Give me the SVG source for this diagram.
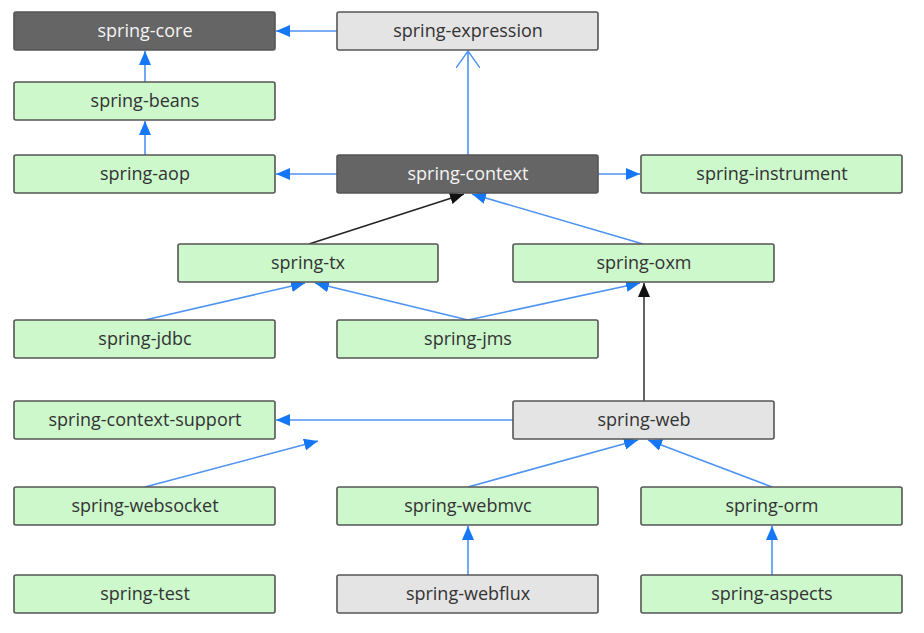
<svg xmlns="http://www.w3.org/2000/svg" width="924" height="633" viewBox="0 0 924 633">
<style>
.n rect{stroke:#555;stroke-width:1.6}
.g rect{fill:#ccf8cc}
.l rect{fill:#e4e4e4}
.d rect{fill:#656565}
.n text{font-family:"Open Sans","Noto Sans","DejaVu Sans",sans-serif;font-size:18px;text-anchor:middle;dominant-baseline:central;fill:#333}
.d text{fill:#f4f4f4}
.e{fill:none;stroke:#4c93f2;stroke-width:1.6}
.k{fill:none;stroke:#222;stroke-width:1.4}
</style>
<defs>
<marker id="ab" viewBox="0 0 14 12" refX="14" refY="6" markerWidth="14" markerHeight="12" markerUnits="userSpaceOnUse" orient="auto"><path d="M0,0L14,6L0,12z" fill="#1677f5"/></marker>
<marker id="ak" viewBox="0 0 14 12" refX="14" refY="6" markerWidth="14" markerHeight="12" markerUnits="userSpaceOnUse" orient="auto"><path d="M0,0L14,6L0,12z" fill="#111"/></marker>
<marker id="ao" viewBox="0 0 18 24" refX="17" refY="12" markerWidth="18" markerHeight="24" markerUnits="userSpaceOnUse" orient="auto"><path d="M0,0L17,12L0,24" fill="none" stroke="#4c93f2" stroke-width="1.4"/></marker>
</defs>
<rect width="924" height="633" fill="#fff"/>
<g id="connectors">
<line class="e" x1="337" y1="31" x2="276" y2="31" marker-end="url(#ab)"/>
<line class="e" x1="145" y1="82" x2="145" y2="51" marker-end="url(#ab)"/>
<line class="e" x1="145" y1="155" x2="145" y2="121" marker-end="url(#ab)"/>
<line class="e" x1="468" y1="155" x2="468" y2="51" marker-end="url(#ao)"/>
<line class="e" x1="337" y1="174" x2="276" y2="174" marker-end="url(#ab)"/>
<line class="e" x1="598" y1="174" x2="640" y2="174" marker-end="url(#ab)"/>
<line class="k" x1="309" y1="244" x2="464" y2="194" marker-end="url(#ak)"/>
<line class="e" x1="643" y1="244" x2="472" y2="194" marker-end="url(#ab)"/>
<line class="e" x1="145" y1="320" x2="305" y2="283" marker-end="url(#ab)"/>
<line class="e" x1="468" y1="320" x2="315" y2="283" marker-end="url(#ab)"/>
<line class="e" x1="468" y1="320" x2="640" y2="283" marker-end="url(#ab)"/>
<line class="k" x1="644" y1="401" x2="644" y2="283" marker-end="url(#ak)"/>
<line class="e" x1="513" y1="420" x2="276" y2="420" marker-end="url(#ab)"/>
<line class="e" x1="145" y1="487" x2="318" y2="441" marker-end="url(#ab)"/>
<line class="e" x1="468" y1="487" x2="638" y2="440" marker-end="url(#ab)"/>
<line class="e" x1="772" y1="487" x2="648" y2="440" marker-end="url(#ab)"/>
<line class="e" x1="468" y1="575" x2="468" y2="526" marker-end="url(#ab)"/>
<line class="e" x1="772" y1="575" x2="772" y2="526" marker-end="url(#ab)"/>
</g>
<g id="spring-core" class="n d"><rect x="14" y="12" width="261" height="38" rx="2"/><text x="145" y="30">spring-core</text></g>
<g id="spring-expression" class="n l"><rect x="337" y="12" width="261" height="38" rx="2"/><text x="468" y="30">spring-expression</text></g>
<g id="spring-beans" class="n g"><rect x="14" y="82" width="261" height="38" rx="2"/><text x="145" y="100">spring-beans</text></g>
<g id="spring-aop" class="n g"><rect x="14" y="155" width="261" height="38" rx="2"/><text x="145" y="173">spring-aop</text></g>
<g id="spring-context" class="n d"><rect x="337" y="155" width="261" height="38" rx="2"/><text x="468" y="173">spring-context</text></g>
<g id="spring-instrument" class="n g"><rect x="641" y="155" width="261" height="38" rx="2"/><text x="772" y="173">spring-instrument</text></g>
<g id="spring-tx" class="n g"><rect x="178" y="244" width="260" height="38" rx="2"/><text x="308" y="262">spring-tx</text></g>
<g id="spring-oxm" class="n g"><rect x="513" y="244" width="261" height="38" rx="2"/><text x="644" y="262">spring-oxm</text></g>
<g id="spring-jdbc" class="n g"><rect x="14" y="320" width="261" height="38" rx="2"/><text x="145" y="338">spring-jdbc</text></g>
<g id="spring-jms" class="n g"><rect x="337" y="320" width="261" height="38" rx="2"/><text x="468" y="338">spring-jms</text></g>
<g id="spring-context-support" class="n g"><rect x="14" y="401" width="261" height="38" rx="2"/><text x="145" y="419">spring-context-support</text></g>
<g id="spring-web" class="n l"><rect x="513" y="401" width="261" height="38" rx="2"/><text x="644" y="419">spring-web</text></g>
<g id="spring-websocket" class="n g"><rect x="14" y="487" width="261" height="38" rx="2"/><text x="145" y="505">spring-websocket</text></g>
<g id="spring-webmvc" class="n g"><rect x="337" y="487" width="261" height="38" rx="2"/><text x="468" y="505">spring-webmvc</text></g>
<g id="spring-orm" class="n g"><rect x="641" y="487" width="261" height="38" rx="2"/><text x="772" y="505">spring-orm</text></g>
<g id="spring-test" class="n g"><rect x="14" y="575" width="261" height="38" rx="2"/><text x="145" y="593">spring-test</text></g>
<g id="spring-webflux" class="n l"><rect x="337" y="575" width="261" height="38" rx="2"/><text x="468" y="593">spring-webflux</text></g>
<g id="spring-aspects" class="n g"><rect x="641" y="575" width="261" height="38" rx="2"/><text x="772" y="593">spring-aspects</text></g>
</svg>
